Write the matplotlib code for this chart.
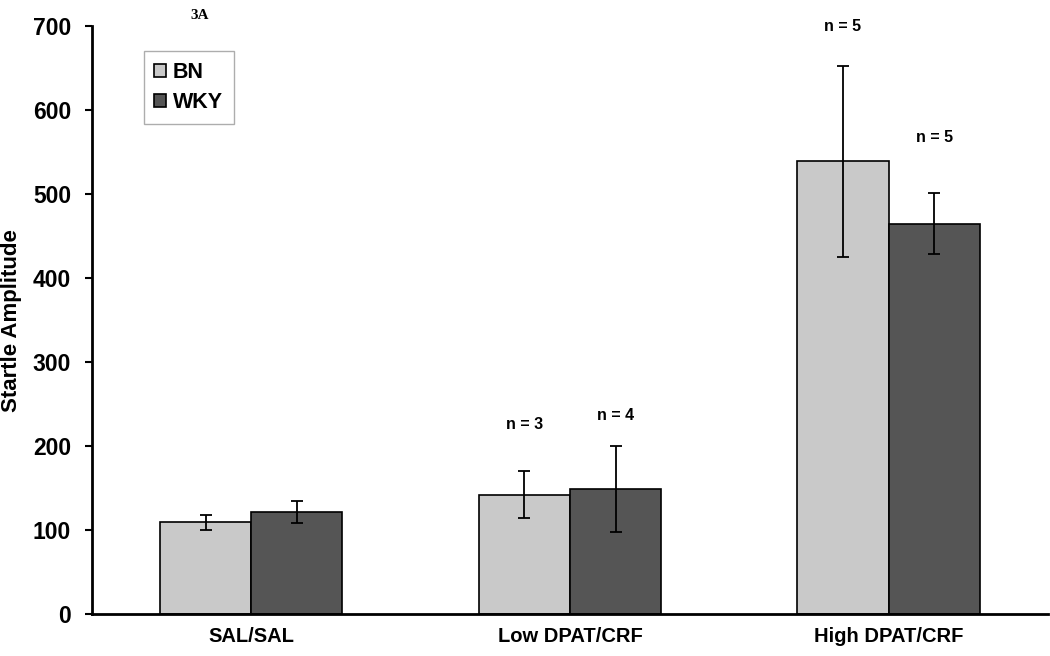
import matplotlib
matplotlib.use("Agg")
import matplotlib.pyplot as plt
import numpy as np

categories = ["SAL/SAL", "Low DPAT/CRF", "High DPAT/CRF"]
series_names = ["BN", "WKY"]
bn_values = [109, 142, 539]
bn_errors = [9, 28, 114]
wky_values = [121, 149, 465]
wky_errors = [13, 51, 36]
n_labels = [(1, "BN", "n = 3", 226), (1, "WKY", "n = 4", 237),
            (2, "BN", "n = 5", 700), (2, "WKY", "n = 5", 568)]
y_ticks = [0, 100, 200, 300, 400, 500, 600, 700]

plt.rcParams['font.family'] = ['Liberation Sans', 'DejaVu Sans']

fig = plt.figure(figsize=(10.5, 6.56), dpi=100)
ax = fig.add_axes([0.0876, 0.064, 0.9104, 0.896])

x = np.arange(len(categories))
w = 0.286
offsets = {"BN": -w / 2, "WKY": w / 2}
colors = {"BN": "#c9c9c9", "WKY": "#555555"}
err_kw = dict(ecolor="black", elinewidth=1.3, capsize=4, capthick=1.3)

ax.bar(x + offsets["BN"], bn_values, w, yerr=bn_errors, color=colors["BN"],
       edgecolor="black", linewidth=1.2, label="BN", error_kw=err_kw, zorder=2)
ax.bar(x + offsets["WKY"], wky_values, w, yerr=wky_errors, color=colors["WKY"],
       edgecolor="black", linewidth=1.2, label="WKY", error_kw=err_kw, zorder=2)

for xi, s, txt, yv in n_labels:
    ax.text(xi + offsets[s], yv, txt, ha="center", va="center",
            fontsize=11.5, fontweight="bold")

ax.set_xlim(-0.5, 2.5)
ax.set_ylim(0, 700)
ax.set_yticks(y_ticks)
ax.set_xticks(x)
ax.set_xticklabels(categories, fontsize=14.5, fontweight="bold")
for lab in ax.get_yticklabels():
    lab.set_fontsize(16.5)
    lab.set_fontweight("bold")
ax.tick_params(axis="x", length=0, pad=9)
ax.tick_params(axis="y", direction="out", length=5, width=1.5, pad=10)
ax.spines["top"].set_visible(False)
ax.spines["right"].set_visible(False)
ax.spines["left"].set_linewidth(2)
ax.spines["bottom"].set_linewidth(2)
ax.set_ylabel("Startle Amplitude", fontsize=16, fontweight="bold", labelpad=8)

leg = ax.legend(loc="upper left", bbox_to_anchor=(0.054, 0.958), borderaxespad=0,
                prop={"weight": "bold", "size": 15.5}, frameon=True, fancybox=False,
                edgecolor="#999999", handlelength=0.55, handleheight=0.55,
                handletextpad=0.3, borderpad=0.5, labelspacing=0.45)
leg.get_frame().set_linewidth(1.0)

fig.text(0.19, 0.977, "3A", fontsize=11, fontweight="bold", family="Liberation Serif",
         ha="center", va="center")

fig.savefig("out.png", dpi=100)
